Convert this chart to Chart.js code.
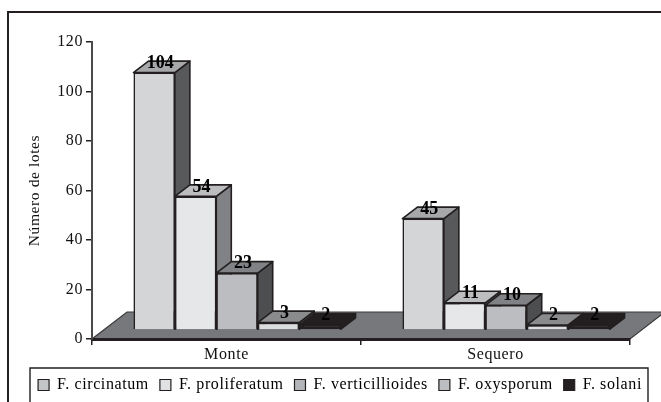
<!DOCTYPE html>
<html lang="es">
<head>
  <meta charset="UTF-8">
  <title>Número de lotes</title>
  <script src="https://cdn.jsdelivr.net/npm/chart.js"></script>
  <style>
    html, body { margin: 0; background: #fff; }
    canvas { display: block; }
  </style>
</head>
<body>
  <canvas id="chart" width="661" height="402"></canvas>

  <script>
    const categories = ['Monte', 'Sequero'];
    const circinatum = [104, 45];
    const proliferatum = [54, 11];
    const verticillioides = [23, 10];
    const oxysporum = [3, 2];
    const solani = [2, 2];
    const seriesNames = ['F. circinatum', 'F. proliferatum', 'F. verticillioides', 'F. oxysporum', 'F. solani'];
    const seriesValues = [circinatum, proliferatum, verticillioides, oxysporum, solani];
    const frontColors = ['#d4d5d7', '#e6e7e9', '#bcbdc0', '#dcddde', '#231f20'];
    const topColors = ['#a7a8aa', '#bcbdbf', '#808285', '#8a8b8d', '#231f20'];
    const sideColors = ['#58595b', '#808285', '#4d4e50', '#58595b', '#231f20'];
    const legendColors = ['#c4c5c7', '#e0e1e3', '#b4b5b8', '#bcbdc0', '#231f20'];

    const lineColor = '#231f20';
    const serif = '"Liberation Serif", serif';

    // bars sit a bit inside the floor, the top and side faces go back from there
    const shift = { x: 10.5, y: -9 };
    const depth = { x: 15, y: -11.5 };
    const floorDepth = { x: 35, y: -27 };

    const fake3d = {
      id: 'fake3d',
      beforeLayout(chart) {
        chart.ctx.letterSpacing = '0.6px';
      },
      afterLayout(chart) {
        // legend goes inside its own frame, not centred on the page
        const lg = chart.legend;
        lg.left += 25;
        lg.right += 25;
        lg.top -= 2;
        lg.bottom -= 2;
      },
      beforeDraw(chart) {
        const { ctx, chartArea: a } = chart;
        ctx.letterSpacing = '0.6px';
        ctx.save();
        ctx.beginPath();
        ctx.moveTo(a.left, a.bottom);
        ctx.lineTo(a.right, a.bottom);
        ctx.lineTo(a.right + floorDepth.x, a.bottom + floorDepth.y);
        ctx.lineTo(a.left + floorDepth.x, a.bottom + floorDepth.y);
        ctx.closePath();
        ctx.fillStyle = '#77787b';
        ctx.fill();
        ctx.strokeStyle = '#3a3a3a';
        ctx.lineWidth = 1.2;
        ctx.stroke();
        ctx.restore();
      },
      // all side and top faces first, left to right, the real bars go over them
      beforeDatasetsDraw(chart) {
        const { ctx } = chart;
        ctx.save();
        ctx.translate(shift.x, shift.y);
        ctx.lineWidth = 1.6;
        ctx.strokeStyle = lineColor;
        ctx.lineJoin = 'round';
        categories.forEach((c, j) => {
          seriesNames.forEach((n, i) => {
            const bar = chart.getDatasetMeta(i).data[j];
            const { x, y, base, width } = bar.getProps(['x', 'y', 'base', 'width'], true);
            const r = x + width / 2;
            const l = x - width / 2;
            // side
            ctx.beginPath();
            ctx.moveTo(r, y);
            ctx.lineTo(r + depth.x, y + depth.y);
            ctx.lineTo(r + depth.x, base + depth.y);
            ctx.lineTo(r, base);
            ctx.closePath();
            ctx.fillStyle = sideColors[i];
            ctx.fill();
            ctx.stroke();
            // top
            ctx.beginPath();
            ctx.moveTo(l, y);
            ctx.lineTo(l + depth.x, y + depth.y);
            ctx.lineTo(r + depth.x, y + depth.y);
            ctx.lineTo(r, y);
            ctx.closePath();
            ctx.fillStyle = topColors[i];
            ctx.fill();
            ctx.stroke();
          });
        });
        ctx.restore();
      },
      beforeDatasetDraw(chart) {
        chart.ctx.save();
        chart.ctx.translate(shift.x, shift.y);
      },
      afterDatasetDraw(chart) {
        chart.ctx.restore();
      },
      afterDatasetsDraw(chart) {
        const { ctx } = chart;
        ctx.save();
        ctx.font = 'bold 18px ' + serif;
        ctx.letterSpacing = '0px';
        ctx.fillStyle = '#000';
        ctx.textAlign = 'center';
        ctx.textBaseline = 'middle';
        seriesValues.forEach((values, i) => {
          chart.getDatasetMeta(i).data.forEach((bar, j) => {
            const { x, y } = bar.getProps(['x', 'y'], true);
            ctx.fillText(values[j], x + shift.x + 6, y + shift.y - 9.5);
          });
        });
        ctx.restore();
      },
      afterDraw(chart) {
        const { ctx } = chart;
        ctx.save();
        ctx.strokeStyle = lineColor;
        ctx.lineWidth = 2;
        ctx.beginPath();
        ctx.moveTo(8, 402);
        ctx.lineTo(8, 12);
        ctx.lineTo(661, 12);
        ctx.stroke();
        ctx.lineWidth = 1.4;
        ctx.beginPath();
        ctx.moveTo(30, 402);
        ctx.lineTo(30, 368);
        ctx.lineTo(648, 368);
        ctx.lineTo(648, 402);
        ctx.stroke();
        ctx.restore();
      }
    };

    new Chart(document.getElementById('chart'), {
      type: 'bar',
      data: {
        labels: categories,
        datasets: seriesNames.map((name, i) => ({
          label: name,
          data: seriesValues[i],
          backgroundColor: frontColors[i],
          borderColor: lineColor,
          borderWidth: 1.6,
          clip: false
        }))
      },
      options: {
        responsive: false,
        animation: false,
        layout: { padding: { left: 0, right: 31, top: 42, bottom: -3 } },
        datasets: { bar: { categoryPercentage: 0.77, barPercentage: 1 } },
        scales: {
          x: {
            grid: { drawOnChartArea: false, tickLength: 6, color: lineColor, lineWidth: 1.5 },
            border: { color: lineColor, width: 3 },
            ticks: { color: '#111', font: { family: serif, size: 16 }, padding: 0 },
            afterFit(scale) { scale.height = 29; }
          },
          y: {
            min: 0,
            max: 120,
            grid: { drawOnChartArea: false, tickLength: 6, color: lineColor, lineWidth: 1.5 },
            border: { color: '#4a4a4a', width: 2 },
            ticks: { stepSize: 20, color: '#111', font: { family: serif, size: 16 }, padding: 3 },
            title: {
              display: true,
              text: 'Número de lotes',
              color: '#111',
              font: { family: serif, size: 15.5 },
              padding: { top: 26, bottom: 1 }
            },
            afterFit(scale) { scale.width = 92; }
          }
        },
        plugins: {
          tooltip: { enabled: false },
          legend: {
            position: 'bottom',
            labels: {
              boxWidth: 11,
              boxHeight: 11,
              padding: 11,
              color: '#111',
              font: { family: serif, size: 16 },
              generateLabels(chart) {
                return seriesNames.map((name, i) => ({
                  text: name,
                  fillStyle: legendColors[i],
                  strokeStyle: lineColor,
                  lineWidth: 1.2,
                  datasetIndex: i
                }));
              }
            }
          }
        }
      },
      plugins: [fake3d]
    });
  </script>
</body>
</html>
